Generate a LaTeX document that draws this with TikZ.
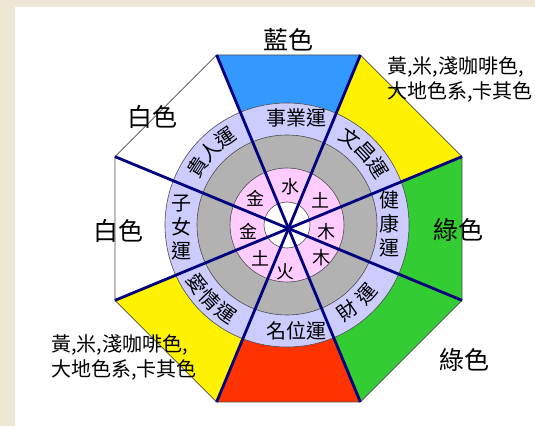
\documentclass[tikz,border=0pt]{standalone}
\usepackage{fontspec}
\setmainfont{Noto Sans CJK TC}
\definecolor{paper}{RGB}{239,231,214}
\definecolor{skyblue}{RGB}{51,153,255}
\definecolor{leaf}{RGB}{51,204,51}
\definecolor{fire}{RGB}{255,51,0}
\definecolor{lavender}{RGB}{204,204,255}
\definecolor{stone}{RGB}{178,178,178}
\definecolor{blush}{RGB}{255,204,255}
\definecolor{spokeblue}{RGB}{0,0,128}

\begin{document}
\begin{tikzpicture}[x=1pt,y=1pt,inner sep=0pt,
  edge/.style={draw=black!70,line width=0.6pt},
  spoke/.style={draw=spokeblue,line width=2.8pt},
  big/.style={font=\fontsize{25}{30}\selectfont},
  note/.style={font=\fontsize{20}{25}\selectfont,align=left,anchor=west},
  luck/.style={font=\fontsize{20}{24}\selectfont,align=center},
  elem/.style={font=\fontsize{18}{20}\selectfont}]
\useasboundingbox (0,0) rectangle (535,426);
\fill[paper] (0,0) rectangle (535,426);
\fill[white] (15,0) rectangle (535,419);

\coordinate (o) at (288.5,197.5);
\coordinate (c) at (287,201);
\begin{scope}[shift={(288.5,197.5)}]
\coordinate (v1) at (22.5:187.8);
\coordinate (v2) at (67.5:187.8);
\coordinate (v3) at (112.5:187.8);
\coordinate (v4) at (157.5:187.8);
\coordinate (v5) at (202.5:187.8);
\coordinate (v6) at (247.5:187.8);
\coordinate (v7) at (292.5:187.8);
\coordinate (v8) at (337.5:187.8);
\end{scope}

% colour sectors of the octagon
\fill[skyblue] (o) -- (v2) -- (v3) -- cycle;
\fill[yellow] (o) -- (v1) -- (v2) -- cycle;
\fill[leaf] (o) -- (v8) -- (v1) -- cycle;
\fill[leaf] (o) -- (v7) -- (v8) -- cycle;
\fill[fire] (o) -- (v6) -- (v7) -- cycle;
\fill[yellow] (o) -- (v5) -- (v6) -- cycle;
\draw[edge] (v1) -- (v2) -- (v3) -- (v4) -- (v5) -- (v6) -- (v7) -- (v8) -- cycle;

% rings
\draw[edge,fill=lavender] (c) circle (122);
\draw[edge,fill=stone] (c) circle (90);
\draw[edge,fill=blush] (c) circle (57);
\draw[edge,fill=white] (c) circle (23);

\draw[spoke] (v1) -- (v5);
\draw[spoke] (v2) -- (v6);
\draw[spoke] (v3) -- (v7);
\draw[spoke] (v4) -- (v8);

% colour labels
\node[big] (blue) at (288,386) {藍色};
\node[big] (whiteup) at (152,309) {白色};
\node[big] (whiteleft) at (118,195) {白色};
\node[big] (greenright) at (458,196) {綠色};
\node[big] (greenlow) at (464,66) {綠色};
\node[note] (earthup) at (387,347) {黃,米,淺咖啡色,\\大地色系,卡其色};
\node[note] (earthlow) at (51,69) {黃,米,淺咖啡色,\\大地色系,卡其色};

% luck ring
\node[luck] (career) at (296,308.5) {事業運};
\node[luck] (health) at (389,202) {健\\康\\運};
\node[luck] (fame) at (296,95) {名位運};
\node[luck] (kids) at (181,198) {子\\女\\運};
\begin{scope}[shift={(287,201)}]
\node[luck,rotate=-36] (study1) at (54:107) {文};
\node[luck,rotate=-47] (study2) at (43:107) {昌};
\node[luck,rotate=-58] (study3) at (32:107) {運};
\node[luck,rotate=35] (wealth1) at (-55:105) {財};
\node[luck,rotate=49] (wealth2) at (-41:105) {運};
\node[luck,rotate=-57] (love1) at (-147:107) {愛};
\node[luck,rotate=-46] (love2) at (-136:107) {情};
\node[luck,rotate=-35] (love3) at (-125:107) {運};
\node[luck,rotate=57] (helper1) at (147:107) {貴};
\node[luck,rotate=46] (helper2) at (136:107) {人};
\node[luck,rotate=35] (helper3) at (125:107) {運};
\end{scope}

% five elements
\node[elem] (water) at (290,239) {水};
\node[elem] (earthne) at (320,226) {土};
\node[elem] (woode) at (326.5,194.5) {木};
\node[elem] (woodse) at (321.5,168) {木};
\node[elem] (fire) at (285,154.5) {火};
\node[elem] (earthsw) at (260,168) {土};
\node[elem] (metalw) at (248,194.5) {金};
\node[elem] (metalnw) at (255,228) {金};
\end{tikzpicture}
\end{document}
